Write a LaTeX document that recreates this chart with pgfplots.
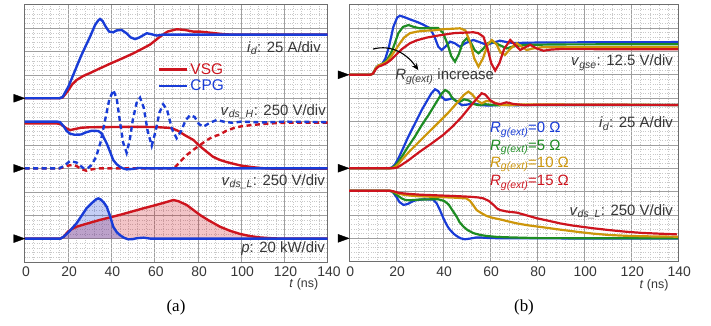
\documentclass[border=0pt]{standalone}
\usepackage{pgfplots}
\pgfplotsset{compat=1.18}
\usepackage{fontspec}
\setmainfont{Liberation Sans}
\newfontfamily\timesfont{Liberation Serif}
\usetikzlibrary{arrows.meta}
\definecolor{myred}{RGB}{205,20,30}
\definecolor{myblue}{RGB}{25,60,215}
\definecolor{mygreen}{RGB}{30,140,35}
\definecolor{mygold}{RGB}{205,150,10}
\definecolor{txt}{RGB}{55,55,55}
\definecolor{framec}{RGB}{110,110,110}
\newcommand{\I}[1]{\textit{#1}}
\newcommand{\sub}[1]{\textsubscript{\itshape #1}}
\newcommand{\lblfont}{\fontsize{15}{17}\selectfont}
\pgfdeclareplotmark{rtri}{%
  \pgfpathmoveto{\pgfqpoint{0pt}{0pt}}%
  \pgfpathlineto{\pgfqpoint{-11pt}{4pt}}%
  \pgfpathlineto{\pgfqpoint{-11pt}{-4pt}}%
  \pgfpathclose\pgfusepathqfillstroke}
\tikzset{lbl/.style={anchor=east, inner sep=0pt, text=txt, font=\lblfont}}
\pgfplotsset{
  scopestyle/.style={
    scale only axis, anchor=south west,
    xmin=0, xmax=140, ymin=0, ymax=11,
    xtick={0,20,...,140}, ytick={0,1,...,11}, yticklabel=\empty,
    minor x tick num=4, minor y tick num=4,
    grid=both,
    major grid style={draw=gray!75, line width=0.6pt},
    minor grid style={draw=gray!42, dotted, line width=0.5pt},
    major tick length=0pt, minor tick length=0pt,
    axis line style={draw=framec, line width=1pt},
    tick label style={font=\fontsize{14}{14}\selectfont, text=txt},
    xticklabel style={yshift=-1.5bp, xshift=1.2bp},
    /pgf/number format/assume math mode=true,
    clip=false,
  },
}
\begin{document}
\begin{tikzpicture}
\useasboundingbox (0,0) rectangle (711bp,326bp);
% ---------------- (a) ----------------
\begin{axis}[scopestyle, at={(24.7bp,64bp)}, width=303bp, height=257.3bp,
  legend style={at={(0.438,0.782)}, anchor=north west, draw=none, fill=none,
    font=\fontsize{15.5}{17}\selectfont, inner sep=0pt, row sep=-1pt, nodes={inner sep=2.5pt}},
  legend cell align=left,
  legend image code/.code={\draw[#1] (0bp,0bp) -- (28bp,0bp);}]
% power fills
\addplot[draw=none, fill=myred, fill opacity=0.25, forget plot] coordinates {
(16.5,1)(18,1.08)(20,1.3)(22,1.42)(24,1.51)(28,1.62)(34.8,1.8)(40,1.92)(45,2.04)(50,2.17)(55,2.3)(60,2.42)(65,2.55)(68.7,2.65)(71,2.6)(74.8,2.44)(78,2.22)(81,2.01)(85,1.78)(90.2,1.51)(95,1.33)(99.5,1.2)(104,1.11)(108.7,1.05)(115,1.01)(120,1.0)} -- cycle;
\addplot[draw=none, fill=myblue, fill opacity=0.25, forget plot] coordinates {
(16.5,1)(18,1.08)(20,1.25)(22,1.45)(24,1.66)(26.3,1.98)(28.6,2.3)(31,2.52)(33,2.68)(34,2.72)(35,2.68)(36.5,2.55)(37.9,2.36)(39.5,1.95)(40.9,1.51)(42.5,1.28)(44,1.15)(46,1.03)(47.9,0.98)(50,1.0)} -- cycle;
% VSG (red)
\addplot[myred, line width=2.4pt, forget plot] coordinates {
(0,7.0)(16,7.0)(17.5,7.03)(19,7.2)(20.2,7.35)(22,7.6)(24,7.78)(27,7.95)(30,8.07)(34.8,8.28)(40,8.5)(45,8.7)(50.2,8.92)(55,9.15)(58,9.3)(62.5,9.63)(66,9.85)(70.2,9.95)(74,9.92)(77.9,9.85)(81,9.85)(84,9.82)(88,9.78)(92,9.74)(96,9.72)(140,9.72)};
\addplot[myred, line width=2.4pt, forget plot] coordinates {
(0,5.92)(15,5.92)(16.5,5.9)(18,5.8)(19.5,5.7)(21,5.64)(23,5.68)(26,5.74)(30,5.76)(40,5.77)(50,5.78)(60,5.77)(66,5.74)(68,5.72)(71,5.6)(74,5.42)(77.9,5.22)(81,4.95)(84,4.72)(87,4.5)(90,4.37)(93,4.28)(96.4,4.2)(100,4.12)(105.6,4.05)(110,4.01)(115,3.99)(140,3.99)};
\addplot[myred, line width=2.4pt, dash pattern=on 5pt off 3.5pt, forget plot] coordinates {
(0,4.0)(16,4.0)(18,4.05)(20,4.12)(22,4.15)(24,4.1)(26,3.98)(28.6,3.9)(31,3.96)(34,4.0)(40,4.0)(50,4.0)(60,4.0)(68,4.0)(70,4.1)(71.8,4.29)(74.8,4.57)(78,4.8)(81,5.0)(84,5.2)(87,5.36)(90.2,5.45)(93,5.6)(96.4,5.72)(100,5.8)(105.6,5.86)(110,5.9)(115,5.93)(120,5.95)(140,5.96)};
\addplot[myred, line width=2.4pt, forget plot] coordinates {
(0,1)(16.5,1)(18,1.08)(20,1.3)(22,1.42)(24,1.51)(28,1.62)(34.8,1.8)(40,1.92)(45,2.04)(50,2.17)(55,2.3)(60,2.42)(65,2.55)(68.7,2.65)(71,2.6)(74.8,2.44)(78,2.22)(81,2.01)(85,1.78)(90.2,1.51)(95,1.33)(99.5,1.2)(104,1.11)(108.7,1.05)(115,1.01)(120,1.0)(140,1.0)};
% CPG (blue)
\addplot[myblue, line width=2.4pt, forget plot] coordinates {
(0,7.0)(16,7.0)(17.5,7.05)(19,7.3)(20.2,7.5)(22,7.9)(24,8.35)(26,8.8)(28,9.2)(30.2,9.63)(32.5,10.13)(34,10.33)(34.8,10.39)(36,10.3)(37.5,10.05)(39,9.85)(40.9,9.82)(42.5,9.9)(44.8,9.92)(47,9.78)(49,9.6)(51,9.53)(53,9.6)(56.4,9.78)(58.5,9.74)(61,9.68)(64,9.72)(140,9.72)};
\addplot[myblue, line width=2.4pt, forget plot] coordinates {
(0,6.0)(15,6.0)(16.3,5.98)(18,5.8)(19.4,5.6)(20.9,5.49)(23,5.44)(26,5.45)(28.5,5.55)(31,5.61)(34,5.6)(35.5,5.5)(37.9,5.07)(39.5,4.7)(40.9,4.36)(42.5,4.18)(44,4.07)(45.5,4.0)(47.1,3.96)(50,3.98)(53,4.02)(56,4.0)(140,4.0)};
\addplot[myblue, line width=2.4pt, dash pattern=on 5pt off 3.5pt, forget plot] coordinates {
(0,4)(16,4)(18,4.1)(21,4.32)(24,4.25)(27,4.02)(29,4.0)(31,4.15)(33,4.5)(35,5.1)(37,6.0)(39,6.9)(40.9,7.35)(42.5,7.0)(44,6.0)(45.5,5.1)(47.1,4.67)(48.5,5.2)(50,6.1)(51.7,6.8)(53.3,7.02)(55,6.6)(56.8,5.6)(58.7,4.97)(60.5,5.6)(62.3,6.4)(64,6.74)(65.8,6.5)(68,5.7)(70.2,5.29)(72.3,5.6)(74.3,6.05)(76.4,6.28)(78.5,6.2)(80.5,5.9)(82.5,5.78)(85.5,5.95)(88.7,6.07)(92,6.0)(96,5.95)(100,6.0)(110,5.97)(120,6.0)(140,5.98)};
\addplot[myblue, line width=2.4pt, forget plot] coordinates {
(0,1)(16.5,1)(18,1.08)(20,1.25)(22,1.45)(24,1.66)(26.3,1.98)(28.6,2.3)(31,2.52)(33,2.68)(34,2.72)(35,2.68)(36.5,2.55)(37.9,2.36)(39.5,1.95)(40.9,1.51)(42.5,1.28)(44,1.15)(46,1.03)(47.9,0.97)(50,0.98)(52,1.02)(55,1.04)(58,1.0)(140,1.0)};
% zero markers
\addplot[only marks, mark=rtri, mark options={fill=black, draw=black}, forget plot] coordinates {(0,7)(0,4)(0,1)};
\addlegendimage{myred, line width=2.4pt}
\addlegendentry{\textcolor{myred}{VSG}}
\addlegendimage{myblue, line width=2.4pt}
\addlegendentry{\textcolor{myblue}{CPG}}
\node[lbl] at (axis cs:136.9,9.14) {\I{i}\sub{d}: 25 A/div};
\node[lbl] at (axis cs:139.2,6.43) {\I{v}\sub{ds\_H}: 250 V/div};
\node[lbl] at (axis cs:138.8,3.43) {\I{v}\sub{ds\_L}: 250 V/div};
\node[lbl] at (axis cs:138.8,0.59) {\I{p}: 20 kW/div};
\node[inner sep=0pt, text=txt, font=\fontsize{12.5}{13}\selectfont] at (axis cs:129,-0.94) {\I{t} (ns)};
\end{axis}
% ---------------- (b) ----------------
\begin{axis}[scopestyle, at={(349bp,64.3bp)}, width=329bp, height=257bp]
% v_gse
\addplot[myblue, line width=2.2pt] coordinates {
(0,8.0)(9,8.0)(10.2,8.05)(11.5,8.3)(12.5,8.4)(14,8.45)(15.5,8.7)(17,9.2)(18.9,10.06)(20.5,10.45)(21.7,10.53)(24,10.45)(26.5,10.35)(28.8,10.27)(31.5,10.15)(34.5,9.99)(36.5,9.6)(38,9.2)(39.4,9.06)(41,9.2)(43,9.42)(45,9.35)(47.2,9.2)(49.5,9.35)(52.9,9.49)(55.5,9.4)(58.6,9.28)(61.5,9.38)(64.3,9.46)(67,9.4)(70,9.36)(80,9.38)(100,9.39)(140,9.4)};
\addplot[mygreen, line width=2.2pt] coordinates {
(0,8.0)(9,8.0)(10.2,8.05)(11.5,8.3)(12.5,8.4)(14,8.45)(16,8.6)(18,8.95)(19.5,9.35)(21,9.78)(23,10.05)(25.3,10.13)(27.5,10.05)(30.2,9.99)(34,10.0)(37.9,10.0)(40,9.8)(42,9.3)(43.5,8.8)(45.1,8.56)(46.8,8.9)(48.5,9.4)(50.1,9.56)(52,9.35)(53.5,9.05)(55.1,8.92)(57,9.1)(59,9.35)(60.8,9.42)(63.5,9.3)(67.1,9.13)(70,9.22)(75,9.28)(90,9.3)(140,9.31)};
\addplot[mygold, line width=2.2pt] coordinates {
(0,8.0)(9,8.0)(10.2,8.05)(11.5,8.3)(12.5,8.4)(14,8.45)(16,8.55)(18,8.8)(20,9.1)(22,9.4)(23.5,9.6)(25.9,9.78)(29,9.85)(33,9.89)(36,9.9)(40.1,9.95)(44,9.97)(47.2,9.99)(49.5,9.9)(51.5,9.4)(53.3,8.7)(55.1,8.35)(57,8.7)(59,9.3)(60.8,9.49)(62.8,9.3)(64.5,8.95)(66.4,8.85)(68.5,9.1)(71.4,9.35)(73.5,9.2)(75.6,9.06)(78,9.12)(82,9.18)(140,9.18)};
\addplot[myred, line width=2.2pt] coordinates {
(0,8.0)(9,8.0)(10.2,8.05)(11.5,8.25)(12.5,8.35)(14,8.4)(16,8.5)(18,8.65)(20,8.85)(22.5,9.1)(25.9,9.35)(29,9.48)(33,9.59)(38,9.68)(44.4,9.78)(48,9.8)(52.9,9.82)(55,9.78)(57.2,9.63)(59,9.1)(60.5,8.5)(62.2,8.18)(64,8.5)(66,9.1)(68.6,9.49)(70.5,9.3)(72.8,9.06)(75,9.18)(77.1,9.28)(80,9.12)(82.8,9.03)(86,9.08)(90,9.1)(140,9.09)};
% i_d
\addplot[myblue, line width=2.2pt] coordinates {
(0,4.0)(17,4.0)(18.2,4.03)(19.5,4.15)(21,4.42)(23,4.85)(25,5.3)(27,5.7)(29,6.1)(31,6.5)(33,6.85)(35,7.2)(36.6,7.38)(38,7.3)(39.5,7.05)(41,6.92)(42.5,6.95)(44,7.0)(46,6.85)(48,6.7)(50,6.72)(53,6.78)(56,6.7)(60,6.68)(65,6.72)(70,6.7)(140,6.71)};
\addplot[mygreen, line width=2.2pt] coordinates {
(0,4.0)(17.5,4.0)(19,4.05)(20.5,4.2)(22.5,4.5)(25,4.9)(28,5.35)(31,5.85)(34,6.3)(37,6.8)(39.5,7.2)(40.9,7.35)(42.5,7.25)(44,7.0)(45.5,6.88)(47.2,6.85)(49,6.95)(51,6.9)(53,6.75)(55,6.7)(58,6.74)(62,6.7)(140,6.71)};
\addplot[mygold, line width=2.2pt] coordinates {
(0,4.0)(18,4.0)(19.5,4.05)(21,4.18)(23,4.42)(26,4.75)(30,5.15)(34,5.55)(38,5.95)(42,6.35)(46,6.8)(49,7.15)(50.8,7.28)(52.5,7.15)(54.5,6.9)(56.5,6.78)(58.5,6.88)(61,6.85)(64,6.72)(68,6.7)(72,6.73)(140,6.71)};
\addplot[myred, line width=2.2pt] coordinates {
(0,4.0)(19,4.0)(20.5,4.03)(22,4.12)(25,4.32)(30,4.7)(35,5.05)(40,5.42)(44,5.78)(48,6.2)(52,6.7)(55,7.05)(56.5,7.21)(58,7.15)(60,6.92)(62,6.78)(64.5,6.75)(67,6.82)(70,6.75)(75,6.7)(80,6.72)(140,6.71)};
% v_ds_L
\addplot[myblue, line width=2.2pt] coordinates {
(0,3.04)(17,3.04)(18.5,3.0)(20,2.8)(21.5,2.55)(23.2,2.43)(25,2.47)(27,2.58)(28.8,2.64)(32,2.67)(35.8,2.66)(37.3,2.5)(38.7,2.21)(40,1.9)(40.9,1.71)(42,1.5)(43,1.36)(44.5,1.2)(45.8,1.1)(47.5,1.0)(49.4,0.96)(51.5,0.99)(54.3,1.04)(57,1.03)(60,1.01)(70,1.0)(140,0.99)};
\addplot[mygreen, line width=2.2pt] coordinates {
(0,3.04)(17,3.04)(18.5,3.0)(20,2.88)(22.4,2.71)(24,2.64)(25.9,2.63)(30,2.66)(35,2.67)(38,2.67)(40.5,2.6)(42.4,2.45)(44,2.2)(45.8,1.93)(47,1.7)(48.7,1.5)(50.5,1.35)(53,1.22)(56,1.14)(58.7,1.1)(63,1.06)(68.6,1.04)(80,1.01)(140,1.0)};
\addplot[mygold, line width=2.2pt] coordinates {
(0,3.04)(17.5,3.04)(19,3.0)(21,2.92)(23.5,2.86)(25.9,2.83)(30,2.8)(35,2.78)(40,2.76)(45,2.74)(49.9,2.71)(51.5,2.6)(53,2.4)(54.3,2.21)(56.5,2.07)(58.5,1.96)(61,1.88)(64.3,1.81)(68,1.72)(71.4,1.64)(76,1.56)(82.8,1.47)(90,1.37)(97,1.28)(104,1.2)(111.1,1.14)(120,1.1)(130,1.08)(140,1.07)};
\addplot[myred, line width=2.2pt] coordinates {
(0,3.04)(17.5,3.04)(19,3.01)(21,2.95)(23.5,2.92)(25.9,2.9)(30,2.87)(35,2.85)(40,2.83)(45,2.81)(51.5,2.78)(55,2.75)(57.2,2.71)(59.5,2.6)(61.5,2.43)(63,2.28)(64.3,2.21)(67,2.15)(71.4,2.1)(75,2.0)(79.9,1.86)(85,1.75)(89.8,1.64)(95,1.55)(104,1.43)(111,1.35)(118.2,1.28)(125,1.23)(132,1.2)(139.5,1.17)};
\addplot[only marks, mark=rtri, mark options={fill=black, draw=black}] coordinates {(0,8)(0,4)(0,1)};
\draw[black, line width=1.1pt, -{Stealth[length=7pt,width=6pt]}] (axis cs:10.2,9.1) to[out=15, in=125] (axis cs:29.5,8.2);
\node[anchor=west, inner sep=0pt, text=txt, font=\lblfont] at (axis cs:19.6,7.92) {\I{R}\sub{g(ext)} increase};
\node[lbl] at (axis cs:137.9,8.52) {\I{v}\sub{gse}: 12.5 V/div};
\node[lbl] at (axis cs:137.9,5.92) {\I{i}\sub{d}: 25 A/div};
\node[lbl] at (axis cs:137.9,2.14) {\I{v}\sub{ds\_L}: 250 V/div};
\node[anchor=west, inner sep=0pt, text=myblue, font=\lblfont] at (axis cs:60,5.64) {\I{R}\sub{g(ext)}=0 Ω};
\node[anchor=west, inner sep=0pt, text=mygreen, font=\lblfont] at (axis cs:60,4.90) {\I{R}\sub{g(ext)}=5 Ω};
\node[anchor=west, inner sep=0pt, text=mygold, font=\lblfont] at (axis cs:60,4.17) {\I{R}\sub{g(ext)}=10 Ω};
\node[anchor=west, inner sep=0pt, text=myred, font=\lblfont] at (axis cs:60,3.38) {\I{R}\sub{g(ext)}=15 Ω};
\node[inner sep=0pt, text=txt, font=\fontsize{12.5}{13}\selectfont] at (axis cs:129.8,-0.99) {\I{t} (ns)};
\end{axis}
\node[font=\timesfont\fontsize{17}{17}\selectfont] at (176bp,19bp) {(a)};
\node[font=\timesfont\fontsize{17}{17}\selectfont] at (524bp,19bp) {(b)};
\end{tikzpicture}
\end{document}
